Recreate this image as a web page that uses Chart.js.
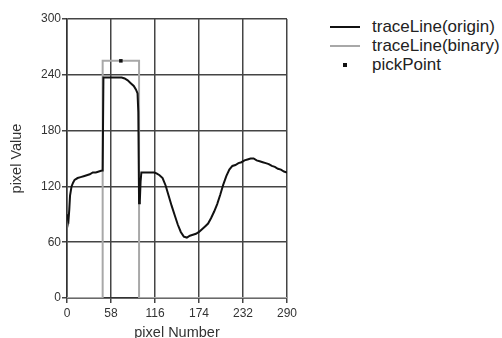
<!DOCTYPE html>
<html>
<head>
<meta charset="utf-8">
<script src="https://cdn.jsdelivr.net/npm/chart.js@4"></script>
<style>
  body { margin: 0; background: #fff; font-family: "Liberation Sans", Arial, sans-serif; }
  #wrap { position: relative; width: 502px; height: 338px; overflow: hidden; }
  #chart-box { position: absolute; left: 0; top: 0; width: 300px; height: 338px; }
  #legend { position: absolute; left: 330px; top: 17px; color: #222; font-size: 17px; white-space: nowrap; }
  .leg-row { height: 19px; display: flex; align-items: center; }
  .leg-mark { width: 30px; height: 2px; margin-right: 12px; display: flex; align-items: center; justify-content: center; }
</style>
</head>
<body>
<div id="wrap">
  <div id="chart-box"><canvas id="traceChart"></canvas></div>
  <div id="legend"></div>
</div>
<script>
// traceLine(origin) samples
const originX = [0, 1, 2, 3, 4, 6, 8, 10, 14, 18, 22, 26, 30, 34, 38, 42, 46, 47,
    48, 55, 60, 66, 72, 76, 80, 84, 88, 91, 93, 94, 95, 96, 97, 98,
    100, 105, 110, 115, 118, 122, 126, 130, 134, 138, 142, 146, 150, 154, 158,
    162, 166, 170, 174, 178, 182, 186, 190, 194, 198, 202, 206, 210, 214, 218,
    222, 226, 230, 234, 238, 242, 246, 250, 254, 258, 262, 266, 270, 274, 278,
    282, 286, 290];
const originY = [90, 86, 84, 95, 110, 120, 124, 127, 129, 130, 131, 132, 133, 135, 135, 136, 137, 137,
    237, 237, 237, 237, 237, 236, 234, 231, 228, 224, 220, 200, 102, 104, 125, 135,
    135, 135, 135, 135, 134, 132, 129, 121, 110, 99, 89, 79, 71, 66, 65,
    67, 68, 69, 71, 74, 77, 80, 86, 93, 101, 111, 122, 131, 138, 142,
    143, 145, 146, 148, 149, 150, 150, 148, 147, 146, 145, 144, 142, 141, 139,
    138, 136, 135];

// traceLine(binary)
const binaryX = [0, 47, 47, 95, 95, 290];
const binaryY = [0, 0, 255, 255, 0, 0];

// pickPoint
const pickX = [71];
const pickY = [255];

const xTicks = [0, 58, 116, 174, 232, 290];
const yTicks = [0, 60, 120, 180, 240, 300];

function toPoints(xs, ys) {
    return xs.map((x, i) => ({ x: x, y: ys[i] }));
}

const datasets = [
    { label: 'traceLine(origin)', data: toPoints(originX, originY), borderColor: '#111', borderWidth: 2, pointRadius: 0, tension: 0, order: 1 },
    { label: 'traceLine(binary)', data: toPoints(binaryX, binaryY), borderColor: '#a8a8a8', borderWidth: 2, pointRadius: 0, tension: 0, order: 2 },
    { label: 'pickPoint', data: toPoints(pickX, pickY), showLine: false, pointStyle: 'rect', pointRadius: 2.5, backgroundColor: '#111', borderColor: '#111', borderWidth: 0, order: 0 }
];

Chart.defaults.font.family = '"Liberation Sans", Arial, sans-serif';
Chart.defaults.color = '#333';

new Chart(document.getElementById('traceChart'), {
    type: 'line',
    data: { datasets: datasets },
    options: {
        responsive: true,
        maintainAspectRatio: false,
        animation: false,
        layout: { padding: { top: 19, right: 11, left: 0, bottom: 0 } },
        plugins: { legend: { display: false }, tooltip: { enabled: false } },
        scales: {
            x: {
                type: 'linear', min: 0, max: 290,
                afterBuildTicks: s => { s.ticks = xTicks.map(v => ({ value: v })); },
                afterFit: s => { s.height = 40; },
                ticks: { font: { size: 12 }, color: '#333', padding: 3, maxRotation: 0 },
                grid: { color: '#444', lineWidth: 1.5, tickLength: 5 },
                border: { color: '#333', width: 1.5 },
                title: { display: true, text: 'pixel Number', font: { size: 14.5 }, color: '#333', padding: { top: 0, bottom: -4 } }
            },
            y: {
                min: 0, max: 300,
                afterBuildTicks: s => { s.ticks = yTicks.map(v => ({ value: v })); },
                afterFit: s => { s.width = 67; },
                ticks: { font: { size: 12 }, color: '#333', padding: 1 },
                grid: { color: '#444', lineWidth: 1.5, tickLength: 5 },
                border: { color: '#333', width: 1.5 },
                title: { display: true, text: 'pixel Value', font: { size: 14.5 }, color: '#333', padding: { top: 8, bottom: 0 } }
            }
        }
    }
});

// legend built from the datasets
const legendEl = document.getElementById('legend');
datasets.forEach(d => {
    const row = document.createElement('div');
    row.className = 'leg-row';
    let mark;
    if (d.showLine === false) {
        mark = `<div class="leg-mark" style="height:4px"><span style="width:4px;height:4px;background:${d.backgroundColor}"></span></div>`;
    } else {
        mark = `<div class="leg-mark" style="background:${d.borderColor}"></div>`;
    }
    row.innerHTML = mark + `<span>${d.label}</span>`;
    legendEl.appendChild(row);
});
</script>
</body>
</html>
